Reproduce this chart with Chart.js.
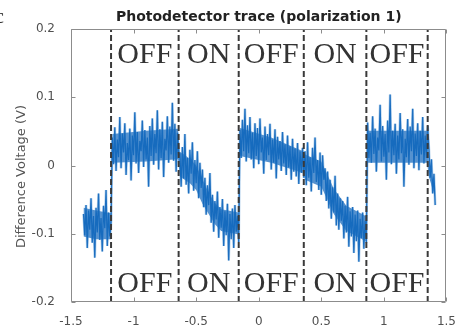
<!DOCTYPE html>
<html>
<head>
<meta charset="utf-8">
<script src="https://cdn.jsdelivr.net/npm/chart.js@4.4.1/dist/chart.umd.min.js"></script>
<style>
  html, body { margin: 0; padding: 0; background: #fff; }
  canvas { display: block; }
</style>
</head>
<body>
<canvas id="trace" width="461" height="326"></canvas>
<script>
'use strict';

const titleText = 'Photodetector trace (polarization 1)';
const yAxisLabel = 'Difference Voltage (V)';
const panelLetter = 'c';
const xTicks = [-1.5, -1, -0.5, 0, 0.5, 1, 1.5];
const yTicks = [-0.2, -0.1, 0, 0.1, 0.2];

// dashed switching times and the state written between them
const switchTimes = [-1.18, -0.64, -0.16, 0.36, 0.86, 1.35];
const stateLabels = ['OFF', 'ON', 'OFF', 'ON', 'OFF'];

// trace sampled every 10 ms; one array per interval, each with its first sample time
const sampleStep = 0.01;
const segmentStarts = [-1.40, -1.17, -0.63, -0.15, 0.37, 0.87, 1.36];
const leadIn = [
  -0.071, -0.102, -0.058, -0.121, -0.066, -0.094, -0.048, -0.113, -0.074, -0.135,
  -0.062, -0.098, -0.041, -0.109, -0.077, -0.126, -0.059, -0.092, -0.036, -0.118,
  -0.069, -0.104, -0.083
];
const off1 = [
  0.041, 0.002, 0.056, -0.008, 0.038, 0.012, 0.071, -0.004, 0.047, 0.019,
  0.062, -0.014, 0.033, 0.008, 0.054, -0.022, 0.044, 0.015, 0.078, 0.003,
  0.049, -0.011, 0.036, 0.021, 0.066, -0.002, 0.052, 0.009, 0.041, -0.031,
  0.058, 0.014, 0.069, 0.001, 0.046, 0.018, 0.081, -0.006, 0.053, 0.011,
  0.064, -0.017, 0.039, 0.022, 0.072, 0.004, 0.057, 0.016, 0.092, 0.007,
  0.061, -0.009, 0.048, 0.013
];
const on1 = [
  0.018, -0.031, 0.027, -0.019, 0.046, -0.028, 0.011, -0.041, 0.023, -0.012,
  0.034, -0.037, 0.008, -0.026, 0.021, -0.048, 0.004, -0.033, -0.006, -0.061,
  -0.018, -0.072, -0.029, -0.058, -0.011, -0.084, -0.043, -0.097, -0.052, -0.079,
  -0.038, -0.106, -0.061, -0.091, -0.049, -0.118, -0.067, -0.102, -0.056, -0.139,
  -0.071, -0.108, -0.063, -0.121, -0.058, -0.097, -0.074, -0.112
];
const off2 = [
  0.052, 0.011, 0.067, 0.021, 0.083, 0.006, 0.059, 0.018, 0.071, 0.009,
  0.048, -0.004, 0.062, 0.014, 0.055, 0.002, 0.069, 0.019, 0.041, -0.012,
  0.057, 0.008, 0.046, 0.015, 0.061, -0.006, 0.038, 0.004, 0.053, -0.019,
  0.042, 0.009, 0.036, -0.008, 0.049, 0.003, 0.031, -0.014, 0.044, -0.003,
  0.028, -0.021, 0.039, -0.009, 0.025, -0.016, 0.033, -0.027, 0.021, -0.011,
  0.026, -0.018
];
const on2 = [
  0.021, -0.029, 0.034, -0.018, 0.012, -0.038, 0.026, -0.011, 0.041, -0.024,
  0.008, -0.036, 0.019, -0.043, 0.015, -0.021, -0.004, -0.052, -0.009, -0.063,
  -0.021, -0.078, -0.032, -0.069, -0.015, -0.088, -0.041, -0.094, -0.048, -0.081,
  -0.052, -0.107, -0.059, -0.098, -0.046, -0.119, -0.067, -0.104, -0.061, -0.128,
  -0.072, -0.111, -0.066, -0.141, -0.078, -0.106, -0.069, -0.122, -0.081, -0.113
];
const off3 = [
  0.063, 0.011, 0.048, 0.004, 0.072, 0.017, 0.054, -0.009, 0.041, 0.022,
  0.089, 0.006, 0.058, 0.013, 0.046, -0.021, 0.066, 0.019, 0.104, 0.002,
  0.051, 0.015, 0.061, -0.012, 0.044, 0.009, 0.077, 0.018, 0.053, -0.031,
  0.039, 0.012, 0.068, 0.001, 0.057, 0.021, 0.083, -0.004, 0.047, 0.014,
  0.062, -0.007, 0.051, 0.016, 0.071, 0.003, 0.044, 0.011, 0.058
];
const tail = [0.024, -0.018, 0.009, -0.041, -0.012, -0.058];

// edges of the dense dark core of the noise band
const coreTimes = [
  -1.40, -1.30, -1.18, -1.17, -0.90, -0.645,
  -0.63, -0.55, -0.50, -0.45, -0.40, -0.35, -0.30, -0.16,
  -0.15, 0.10, 0.355, 0.37, 0.50, 0.55, 0.60, 0.70, 0.855,
  0.87, 1.10, 1.345, 1.36, 1.41
];
const coreHigh = [
  -0.062, -0.066, -0.070, 0.046, 0.051, 0.054,
  0.020, 0.010, 0.000, -0.020, -0.040, -0.055, -0.064, -0.069,
  0.055, 0.041, 0.021, 0.016, 0.006, -0.014, -0.034, -0.059, -0.074,
  0.051, 0.051, 0.051, 0.002, -0.033
];
const coreLow = [
  -0.104, -0.108, -0.108, 0.004, 0.006, 0.009,
  -0.016, -0.026, -0.036, -0.056, -0.071, -0.086, -0.096, -0.101,
  0.014, 0.004, -0.011, -0.021, -0.031, -0.051, -0.071, -0.096, -0.111,
  0.004, 0.004, 0.004, -0.017, -0.047
];

const segments = [leadIn, off1, on1, off2, on2, off3, tail];

const tracePoints = [];
segments.forEach((vals, s) => {
  vals.forEach((v, i) => tracePoints.push({ x: segmentStarts[s] + i * sampleStep, y: v }));
});
const lowPoints = coreTimes.map((t, i) => ({ x: t, y: coreLow[i] }));
const highPoints = coreTimes.map((t, i) => ({ x: t, y: coreHigh[i] }));

const switchSets = switchTimes.map(t => ({
  data: [{ x: t, y: yTicks[0] }, { x: t, y: yTicks[yTicks.length - 1] }],
  borderColor: '#3a3a3a',
  borderWidth: 2,
  borderDash: [6, 3],
  pointRadius: 0,
  order: 0
}));

const tickFont = { family: 'DejaVu Sans', size: 12 };
const tickColor = '#505050';

const matlabFrame = {
  id: 'matlabFrame',
  afterDraw(chart) {
    const { ctx, chartArea: a, scales: { x, y } } = chart;
    const L = Math.round(a.left) + 0.5;
    const R = Math.round(a.right) - 0.5;
    const T = Math.round(a.top) + 0.5;
    const B = Math.round(a.bottom) - 0.5;
    ctx.save();

    // axes box with inward ticks
    ctx.strokeStyle = '#8c8c8c';
    ctx.lineWidth = 1;
    ctx.beginPath();
    ctx.rect(L, T, R - L, B - T);
    xTicks.forEach(v => {
      const px = Math.round(x.getPixelForValue(v)) + 0.5;
      ctx.moveTo(px, B); ctx.lineTo(px, B - 4);
      ctx.moveTo(px, T); ctx.lineTo(px, T + 4);
    });
    yTicks.forEach(v => {
      const py = Math.round(y.getPixelForValue(v)) + 0.5;
      ctx.moveTo(L, py); ctx.lineTo(L + 4, py);
      ctx.moveTo(R, py); ctx.lineTo(R - 4, py);
    });
    ctx.stroke();

    // OFF / ON labels between the dashed lines
    ctx.fillStyle = '#333';
    ctx.font = '30px "Liberation Serif"';
    ctx.textAlign = 'center';
    ctx.textBaseline = 'alphabetic';
    stateLabels.forEach((lab, i) => {
      const cx = x.getPixelForValue((switchTimes[i] + switchTimes[i + 1]) / 2);
      ctx.fillText(lab, cx, y.getPixelForValue(0.150));
      ctx.fillText(lab, cx, y.getPixelForValue(-0.185));
    });

    // title
    ctx.fillStyle = '#222';
    ctx.font = 'bold 14px "DejaVu Sans"';
    ctx.fillText(titleText, (a.left + a.right) / 2, 21);

    // y axis label
    ctx.save();
    ctx.translate(22, (a.top + a.bottom) / 2 + 11);
    ctx.rotate(-Math.PI / 2);
    ctx.fillStyle = '#555';
    ctx.font = '13px "DejaVu Sans"';
    ctx.textBaseline = 'middle';
    ctx.fillText(yAxisLabel, 0, 0);
    ctx.restore();

    // panel letter, mostly cut off at the left edge
    ctx.fillStyle = '#333';
    ctx.font = '20px "Liberation Serif"';
    ctx.textAlign = 'left';
    ctx.fillText(panelLetter, -5, 23);
    ctx.restore();
  }
};

new Chart(document.getElementById('trace').getContext('2d'), {
  type: 'line',
  data: {
    datasets: [
      {
        data: lowPoints,
        borderWidth: 0,
        pointRadius: 0,
        tension: 0,
        order: 4
      },
      {
        data: highPoints,
        borderWidth: 0,
        pointRadius: 0,
        tension: 0,
        fill: '-1',
        backgroundColor: 'rgba(28, 108, 190, 0.75)',
        order: 3
      },
      {
        // soft halo for the lighter outer noise
        data: tracePoints,
        borderColor: 'rgba(90, 155, 215, 0.45)',
        borderWidth: 2.6,
        borderJoinStyle: 'bevel',
        pointRadius: 0,
        tension: 0,
        order: 2
      },
      {
        data: tracePoints,
        borderColor: 'rgba(20, 105, 190, 0.95)',
        borderWidth: 1.3,
        borderJoinStyle: 'bevel',
        pointRadius: 0,
        tension: 0,
        order: 1
      },
      ...switchSets
    ]
  },
  options: {
    responsive: false,
    animation: false,
    events: [],
    layout: { padding: { top: 29, right: 13, left: 0, bottom: 0 } },
    scales: {
      x: {
        type: 'linear',
        min: -1.5,
        max: 1.5,
        afterBuildTicks: s => { s.ticks = xTicks.map(v => ({ value: v })); },
        afterFit: s => { s.height = 24; },
        grid: { display: false },
        border: { display: false },
        ticks: {
          autoSkip: false,
          maxRotation: 0,
          padding: 5,
          font: tickFont,
          color: tickColor,
          callback: v => String(v)
        }
      },
      y: {
        min: -0.2,
        max: 0.2,
        afterBuildTicks: s => { s.ticks = yTicks.map(v => ({ value: v })); },
        afterFit: s => { s.width = 71; },
        grid: { display: false },
        border: { display: false },
        ticks: {
          padding: 8,
          font: tickFont,
          color: tickColor,
          callback: v => String(v)
        }
      }
    },
    plugins: {
      legend: { display: false },
      tooltip: { enabled: false },
      filler: { propagate: false }
    }
  },
  plugins: [matlabFrame]
});
</script>
</body>
</html>
